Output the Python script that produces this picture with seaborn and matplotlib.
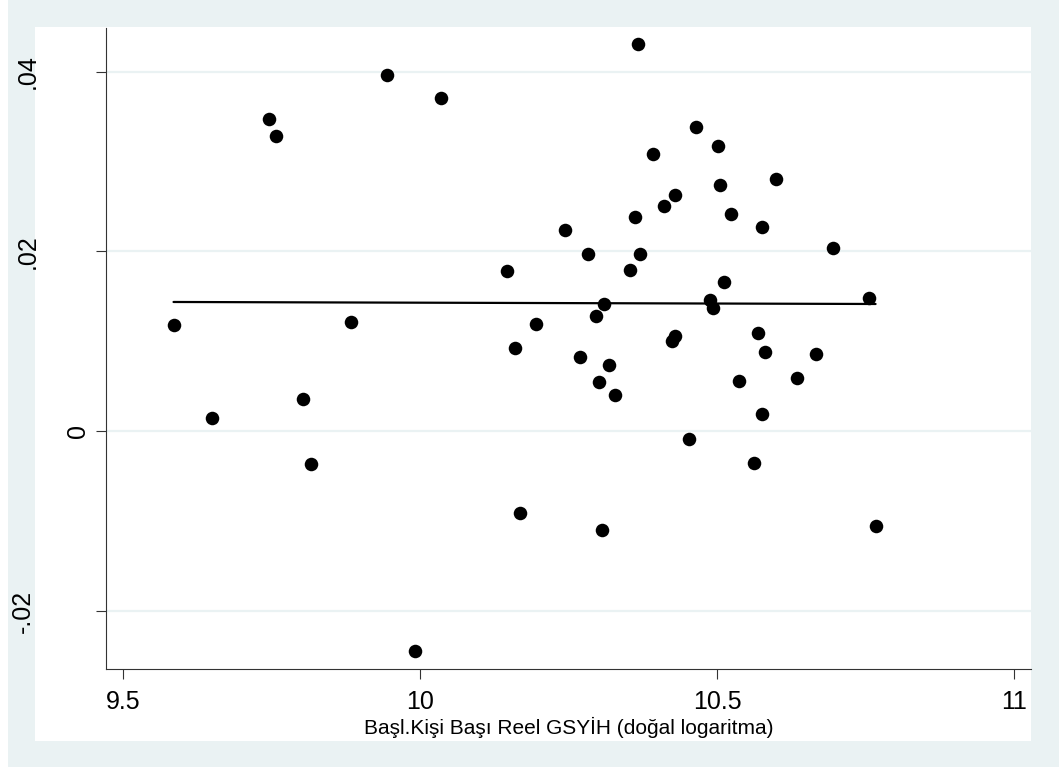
import numpy as np
import pandas as pd
import matplotlib as mpl
mpl.use("Agg")
import matplotlib.pyplot as plt
import seaborn as sns
from matplotlib.patches import Rectangle

outfile = "out.png"

#  -- data ----------------------------------------
gdp_log = [9.585, 9.649, 9.745, 9.758, 9.803, 9.817, 9.883, 9.944, 9.992, 10.035,
           10.146, 10.160, 10.168, 10.196, 10.244, 10.269, 10.283, 10.296, 10.301, 10.307,
           10.309, 10.318, 10.328, 10.353, 10.362, 10.367, 10.371, 10.392, 10.411, 10.424,
           10.429, 10.429, 10.453, 10.464, 10.488, 10.493, 10.502, 10.505, 10.511, 10.523,
           10.537, 10.562, 10.569, 10.575, 10.576, 10.581, 10.599, 10.635, 10.666, 10.695,
           10.756, 10.767]
growth = [0.01178, 0.00152, 0.03474, 0.03289, 0.00356, -0.00362, 0.01216, 0.03963, -0.02448, 0.03711,
          0.01778, 0.00922, -0.00914, 0.01189, 0.02238, 0.00822, 0.01967, 0.01278, 0.00552, -0.01096,
          0.01416, 0.00738, 0.00400, 0.01789, 0.02378, 0.04308, 0.01967, 0.03089, 0.02508, 0.01004,
          0.01056, 0.02633, -0.00089, 0.03389, 0.01463, 0.01371, 0.03178, 0.02741, 0.01660, 0.02416,
          0.00556, -0.00351, 0.01093, 0.02267, 0.00189, 0.00886, 0.02811, 0.00593, 0.00863, 0.02044,
          0.01482, -0.01056]

xticks = [9.5, 10, 10.5, 11]
xtick_labels = ["9.5", "10", "10.5", "11"]
yticks = [-0.02, 0, 0.02, 0.04]
ytick_labels = ["-.02", "0", ".02", ".04"]
ytick_pads = [44, 4.5, 41, 41]
xlabel = "Başl.Kişi Başı Reel GSYİH (doğal logaritma)"

df = pd.DataFrame({"x": gdp_log, "y": growth})

bg = "#EAF2F3"

sns.set_theme(style="white")
plt.rcParams["font.family"] = ["Liberation Sans", "DejaVu Sans"]

fig = plt.figure(figsize=(10.59, 7.67), dpi=100)
fig.patch.set_facecolor(bg)
#  -- white strip on the left and white inner region --
fig.patches.append(Rectangle((0, 0), 8 / 1059, 1, transform=fig.transFigure,
                             facecolor="white", edgecolor="none", zorder=-5))
fig.patches.append(Rectangle((35 / 1059, 26 / 767), (1031 - 35) / 1059, (741 - 27) / 767,
                             transform=fig.transFigure, facecolor="white",
                             edgecolor="none", zorder=-5))

ax = fig.add_axes([106 / 1059, 1 - 669 / 767, 925 / 1059, 641 / 767])
ax.set_facecolor("white")

sns.regplot(data=df, x="x", y="y", ci=None, ax=ax,
            scatter_kws=dict(s=95, color="black", linewidths=0, alpha=1, zorder=3),
            line_kws=dict(color="black", lw=1.6, zorder=2))

ax.set_xlim(9.4713, 11.0287)
ax.set_ylim(-0.02645, 0.04486)

ax.set_xticks(xticks)
ax.set_xticklabels(xtick_labels, fontsize=18, color="black")
ax.set_yticks(yticks)
ax.set_yticklabels(ytick_labels, fontsize=18, rotation=90, va="center", color="black")
for tick, pad in zip(ax.yaxis.get_major_ticks(), ytick_pads):
    tick.set_pad(pad)

ax.tick_params(axis="x", direction="out", length=7.5, width=0.8, color="#333333", pad=7.5, bottom=True)
ax.tick_params(axis="y", direction="out", length=7, width=0.8, color="#333333", left=True)

ax.set_xlabel(xlabel, fontsize=15, labelpad=2, color="black")
ax.set_ylabel("")

ax.yaxis.grid(True, color=bg, lw=1.6)
ax.xaxis.grid(False)
ax.set_axisbelow(True)

for side in ["top", "right"]:
    ax.spines[side].set_visible(False)
for side in ["left", "bottom"]:
    ax.spines[side].set_color("#333333")
    ax.spines[side].set_linewidth(0.8)

plt.savefig(outfile, dpi=100, facecolor=fig.get_facecolor())
